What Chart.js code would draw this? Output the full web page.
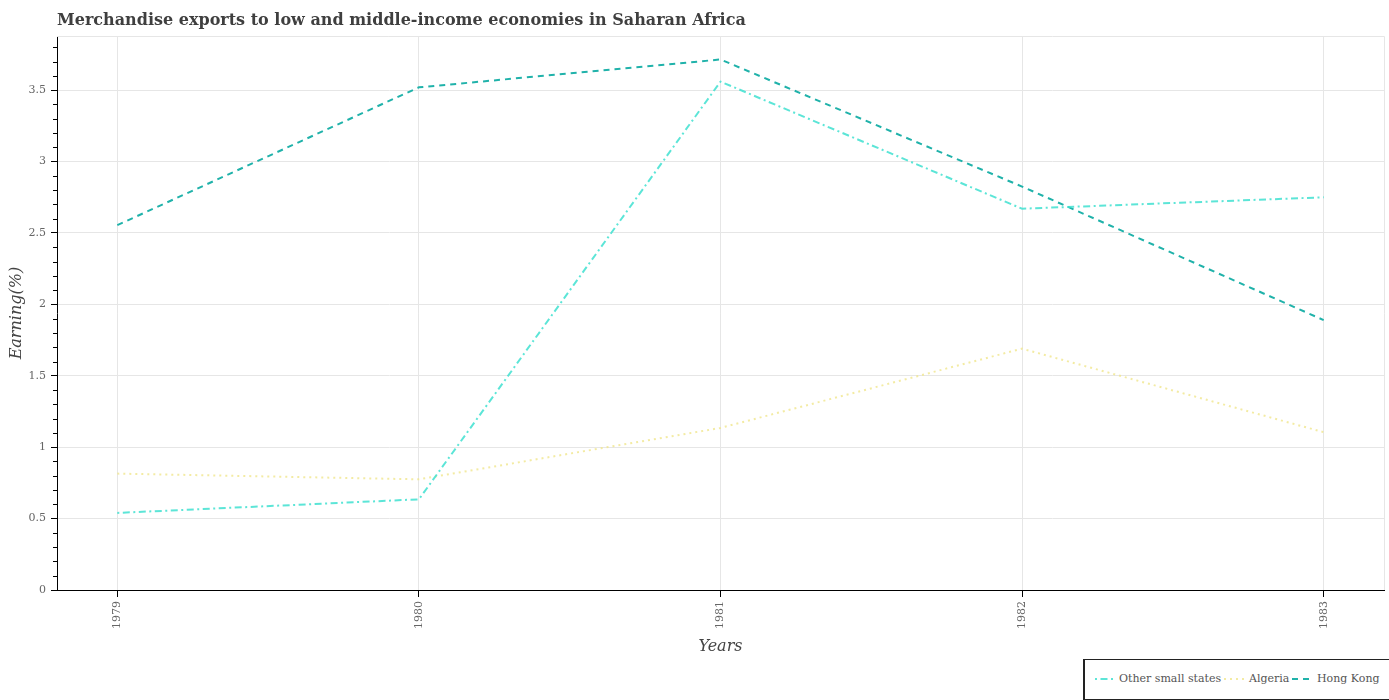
<!DOCTYPE html>
<html lang="en">
<head>
    <meta charset="UTF-8">
    <title>Merchandise exports</title>
    <script src="https://cdn.jsdelivr.net/npm/chart.js"></script>
    <style>
        html, body { margin: 0; padding: 0; background: #fff; }
        #wrap { position: relative; width: 1389px; height: 700px; overflow: hidden; }
        #legend {
            position: absolute; left: 1083px; top: 659px; width: 306px; height: 41px;
            box-sizing: border-box; border: 1px solid #222; border-left-width: 2px; border-right: none;
            font: 11px "DejaVu Serif", serif; color: #555; background: #fff;
        }
        #legend span { position: absolute; top: 12px; white-space: nowrap; line-height: 14px; }
        #legend svg { position: absolute; top: 17px; left: 0; }
    </style>
</head>
<body>
<div id="wrap">
    <canvas id="chart" width="1389" height="700"></canvas>
    <div id="legend">
        <svg width="304" height="4">
            <line x1="10" x2="29" y1="2" y2="2" stroke="#40e0d0" stroke-opacity="0.85" stroke-width="2" stroke-dasharray="2 3.5 7 3.5"/>
            <line x1="139" x2="160" y1="2" y2="2" stroke="#f0e68c" stroke-opacity="0.8" stroke-width="2" stroke-dasharray="2 4"/>
            <line x1="207" x2="226" y1="2" y2="2" stroke="#20b2aa" stroke-width="2" stroke-dasharray="6 5"/>
        </svg>
        <span style="left:34px">Other small states</span>
        <span style="left:164px">Algeria</span>
        <span style="left:232px">Hong Kong</span>
    </div>
</div>
<script>
    const years = [1979, 1980, 1981, 1982, 1983];
    const otherSmallStates = [0.54, 0.635, 3.56, 2.67, 2.75];
    const algeria = [0.815, 0.775, 1.135, 1.69, 1.105];
    const hongKong = [2.555, 3.52, 3.715, 2.825, 1.89];
    const yTicks = [0, 0.5, 1, 1.5, 2, 2.5, 3, 3.5];
    const yMinor = [0.1, 0.2, 0.3, 0.4, 0.6, 0.7, 0.8, 0.9, 1.1, 1.2, 1.3, 1.4, 1.6, 1.7, 1.8, 1.9,
                    2.1, 2.2, 2.3, 2.4, 2.6, 2.7, 2.8, 2.9, 3.1, 3.2, 3.3, 3.4, 3.6, 3.7, 3.8];

    function toPoints(values) {
        return years.map((y, i) => ({ x: y, y: values[i] }));
    }

    // kleine Striche an der y-Achse, Rahmen oben/rechts, Titel der x-Achse
    const extras = {
        id: 'extras',
        beforeDatasetsDraw(chart) {
            const ctx = chart.ctx, a = chart.chartArea;
            ctx.save();
            ctx.strokeStyle = '#e6e6e6';
            ctx.lineWidth = 1;
            ctx.beginPath();
            ctx.moveTo(a.left, Math.round(a.top) + 0.5);
            ctx.lineTo(Math.round(a.right) + 0.5, Math.round(a.top) + 0.5);
            ctx.lineTo(Math.round(a.right) + 0.5, a.bottom);
            ctx.stroke();
            ctx.restore();
        },
        afterDatasetsDraw(chart) {
            const ctx = chart.ctx, s = chart.scales.y, sx = chart.scales.x;
            ctx.save();
            ctx.strokeStyle = '#000';
            ctx.lineWidth = 1;
            yMinor.forEach(v => {
                const p = Math.round(s.getPixelForValue(v)) + 0.5;
                ctx.beginPath();
                ctx.moveTo(s.right - 4, p);
                ctx.lineTo(s.right, p);
                ctx.stroke();
            });
            ctx.fillStyle = '#444';
            ctx.font = 'italic 16px "DejaVu Serif"';
            ctx.textAlign = 'center';
            ctx.textBaseline = 'middle';
            ctx.fillText('Years', (sx.left + sx.right) / 2, 647);
            ctx.restore();
        }
    };

    new Chart(document.getElementById('chart').getContext('2d'), {
        type: 'line',
        data: {
            datasets: [
                { label: 'Other small states', data: toPoints(otherSmallStates), borderColor: 'rgba(64,224,208,0.85)', borderDash: [2, 3.5, 7, 3.5], borderWidth: 2 },
                { label: 'Algeria', data: toPoints(algeria), borderColor: 'rgba(240,230,140,0.8)', borderDash: [2, 4], borderWidth: 2 },
                { label: 'Hong Kong', data: toPoints(hongKong), borderColor: '#20b2aa', borderDash: [6, 5], borderWidth: 2 }
            ]
        },
        options: {
            responsive: false,
            animation: false,
            layout: { padding: { left: 0, right: 5, top: 0, bottom: 0 } },
            elements: { point: { radius: 0 }, line: { tension: 0, fill: false, borderCapStyle: 'butt' } },
            plugins: {
                legend: { display: false },
                tooltip: { enabled: false },
                title: {
                    display: true,
                    text: 'Merchandise exports to low and middle-income economies in Saharan Africa',
                    align: 'start',
                    fullSize: false,
                    color: '#3f3f3f',
                    font: { family: '"DejaVu Serif"', size: 16, weight: 'bold' },
                    padding: { top: 11, bottom: 6 }
                }
            },
            scales: {
                x: {
                    type: 'linear',
                    min: 1978.8,
                    max: 1983.2,
                    afterBuildTicks(axis) { axis.ticks = years.map(v => ({ value: v })); },
                    afterFit(axis) { axis.height = 110; },
                    border: { color: '#000', width: 1 },
                    grid: { color: '#e6e6e6', lineWidth: 1, tickColor: '#000', tickLength: 7 },
                    ticks: {
                        color: '#666', maxRotation: 90, minRotation: 90, autoSkip: false, padding: 4,
                        font: { family: '"DejaVu Serif"', size: 11 },
                        callback: v => String(v)
                    },
                    title: { display: false }
                },
                y: {
                    min: 0,
                    max: 3.878,
                    afterBuildTicks(axis) { axis.ticks = yTicks.map(v => ({ value: v })); },
                    afterFit(axis) { axis.width = 57; },
                    border: { color: '#000', width: 1 },
                    grid: { color: '#e6e6e6', lineWidth: 1, tickColor: '#000', tickLength: 6 },
                    ticks: {
                        color: '#666', padding: 5,
                        font: { family: '"DejaVu Serif"', size: 11 },
                        callback: v => String(v)
                    },
                    title: {
                        display: true, text: 'Earning(%)', color: '#444',
                        font: { family: '"DejaVu Serif"', size: 16, style: 'italic' },
                        padding: { top: 7, bottom: 0 }
                    }
                }
            }
        },
        plugins: [extras]
    });
</script>
</body>
</html>
